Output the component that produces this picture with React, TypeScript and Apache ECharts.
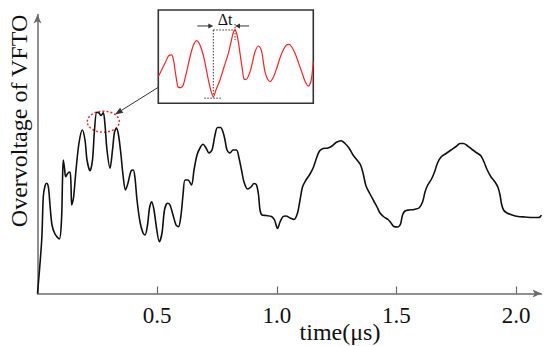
import React, { useEffect, useRef } from "react";
import * as echarts from "echarts";

// Main waveform: time (µs) vs overvoltage (arbitrary units)
const timeUs = [
  0, 0.0176, 0.0242, 0.0313, 0.0384, 0.046, 0.0522, 0.0606, 0.0731, 0.0911,
  0.1003, 0.1045, 0.1078, 0.1128, 0.1178, 0.1275, 0.1358, 0.14, 0.1429, 0.1504,
  0.1609, 0.1734, 0.1872, 0.1985, 0.2069, 0.2194, 0.2298, 0.2382, 0.2474, 0.257,
  0.2654, 0.275, 0.2821, 0.2904, 0.303, 0.3134, 0.3218, 0.3301, 0.3385, 0.3489,
  0.3573, 0.3677, 0.3782, 0.3907, 0.4003, 0.4074, 0.4158, 0.4283, 0.4409, 0.4492,
  0.4597, 0.468, 0.4772, 0.4868, 0.4973, 0.509, 0.5203, 0.5307, 0.5432, 0.5537,
  0.5662, 0.5788, 0.5892, 0.5997, 0.608, 0.6164, 0.6289, 0.6435, 0.654, 0.6665,
  0.679, 0.6916, 0.7041, 0.7166, 0.7292, 0.7417, 0.7522, 0.7647, 0.7752, 0.7835,
  0.7919, 0.8044, 0.8169, 0.8316, 0.842, 0.8525, 0.8629, 0.8776, 0.8922, 0.9047,
  0.9152, 0.9236, 0.9298, 0.9382, 0.9549, 0.9779, 0.9904, 1.003, 1.0134, 1.0259,
  1.0384, 1.0551, 1.0719, 1.0865, 1.097, 1.1074, 1.1221, 1.1388, 1.1534, 1.1659,
  1.1784, 1.1931, 1.214, 1.2307, 1.2474, 1.2683, 1.285, 1.3017, 1.3185, 1.3352,
  1.3498, 1.3602, 1.3728, 1.3895, 1.4062, 1.4187, 1.4313, 1.448, 1.4647, 1.4772,
  1.4898, 1.5044, 1.5169, 1.5253, 1.5357, 1.5524, 1.5733, 1.5942, 1.6089, 1.6193,
  1.6297, 1.6464, 1.659, 1.6715, 1.6862, 1.7071, 1.728, 1.7489, 1.7656, 1.7802,
  1.7948, 1.8157, 1.8366, 1.8533, 1.8658, 1.8784, 1.8951, 1.9118, 1.9243, 1.9327,
  1.939, 1.9474, 1.962, 1.9829, 2.0079, 2.0372, 2.0706, 2.0915, 2.1, 2.105,
];
const overvoltage = [
  0, 53.5, 96.8, 107.5, 110.2, 105.5, 88.5, 68.5, 59.5, 54.5,
  73.5, 113.5, 133.5, 125.5, 116.8, 120.5, 121.5, 108.5, 88.5, 95.5,
  123.5, 150.5, 163.5, 153.5, 133.5, 122.8, 133.5, 163.5, 181.2, 180.5,
  178, 180.8, 168.5, 143.5, 125.2, 143.5, 161.5, 165.2, 158.5, 138.5,
  118.5, 103.5, 110.5, 122.5, 123.5, 115.5, 93.5, 71.5, 60.5, 58.5,
  68.5, 85.5, 91.8, 83.5, 65.5, 51.8, 60.5, 83.5, 90.2, 88.5,
  78.5, 68.5, 66.8, 78.5, 98.5, 113.5, 113.5, 108.5, 123.5, 138.5,
  145.5, 149.2, 145.5, 140.5, 143.5, 158.5, 166, 166, 161.5, 153.5,
  143.5, 140.5, 143.5, 143.5, 135.5, 123.5, 111.5, 104.5, 106.5, 110,
  108.5, 98.5, 83.5, 78.5, 78, 77, 73.5, 65, 71.5, 77,
  77.5, 75.5, 74, 80.5, 93.5, 106.5, 113.5, 119.5, 126.5, 135.5,
  142.5, 145, 145.5, 147.5, 151, 152.8, 150, 145.5, 138.5, 133.5,
  128.5, 120.5, 107.5, 99.5, 92, 86.5, 80.5, 76.5, 74, 70.5,
  67, 66.5, 69.5, 78.5, 82.5, 83.5, 84, 85.5, 91.5, 101.5,
  108, 114.5, 121.5, 130.5, 136.5, 140, 143.5, 147, 150, 150,
  148, 144, 140.5, 137.5, 131.5, 124, 116.5, 111.5, 106, 98.5,
  89.5, 83.5, 80.5, 78.5, 77, 76.5, 76, 76, 76.5, 78.5,
];

// Inset (zoomed) waveform, normalised coordinates
const insetX = [
  0, 0.043, 0.066, 0.086, 0.098, 0.108, 0.121, 0.129, 0.146, 0.161,
  0.182, 0.205, 0.227, 0.248, 0.266, 0.29, 0.308, 0.323, 0.34, 0.355,
  0.372, 0.398, 0.424, 0.452, 0.472, 0.485, 0.495, 0.505, 0.518, 0.527,
  0.541, 0.553, 0.566, 0.592, 0.611, 0.624, 0.645, 0.659, 0.669, 0.688,
  0.705, 0.721, 0.743, 0.764, 0.785, 0.806, 0.827, 0.845, 0.863, 0.882,
  0.905, 0.925, 0.946, 0.968, 0.982, 0.99, 1.0,
];
const insetY = [
  28.5, 42.9, 50.7, 51.8, 46.4, 35.7, 21.8, 17.1, 16.9, 19.6,
  33.5, 49.9, 62.4, 67.1, 63.6, 51.8, 37.8, 25, 13.2, 7.1,
  14.3, 25, 38.9, 53.6, 67.8, 76.4, 78.6, 75.3, 64.6, 53.6,
  37.8, 26, 25.5, 33.9, 46.4, 55.3, 61.4, 59.3, 53.9, 33.9,
  26, 23.2, 28.2, 37.5, 48.6, 57.1, 62.5, 63.2, 59.8, 53.6,
  43.2, 33.9, 23.9, 18.5, 21.8, 28.5, 44.6,
];

const xTickValues = [0.5, 1.0, 1.5, 2.0];
const yAxisTitle = "Overvoltage of VFTO";
const xAxisTitle = "time(μs)";
const deltaLabel = "Δt";
const insetMinIndex = 19;
const insetPeakIndex = 26;
const zoomCenter = [0.275, 171.8];

const FONT = "Liberation Serif";

export default function App() {
  const ref = useRef<HTMLDivElement>(null);

  useEffect(() => {
    const chart = echarts.init(ref.current!, null, { renderer: "svg" });
    const axisColor = "#6b6b6b";
    chart.setOption({
      animation: false,
      textStyle: { fontFamily: FONT },
      grid: [
        { left: 37.5, right: 8.5, top: 14.5, bottom: 52.5 },
        { left: 158.3, top: 10, width: 155, height: 93.3 },
      ],
      xAxis: [
        {
          type: "value",
          gridIndex: 0,
          min: 0,
          max: 2.106,
          axisLine: {
            show: true,
            symbol: ["none", "arrow"],
            symbolSize: [6, 9],
            lineStyle: { color: axisColor, width: 1.5 },
          },
          axisTick: {
            show: true,
            inside: true,
            length: 7,
            customValues: xTickValues,
            lineStyle: { color: axisColor, width: 1.2 },
          },
          axisLabel: {
            customValues: xTickValues,
            formatter: (v: number) => v.toFixed(1),
            color: "#111",
            fontFamily: FONT,
            fontSize: 23,
            margin: 10,
          },
          splitLine: { show: false },
        },
        { type: "value", gridIndex: 1, min: 0, max: 1, show: false },
      ],
      yAxis: [
        {
          type: "value",
          gridIndex: 0,
          min: 0,
          max: 279,
          axisLine: {
            show: true,
            symbol: ["none", "arrow"],
            symbolSize: [6, 9],
            lineStyle: { color: axisColor, width: 1.5 },
          },
          axisTick: { show: false },
          axisLabel: { show: false },
          splitLine: { show: false },
        },
        { type: "value", gridIndex: 1, min: 0, max: 100, show: false },
      ],
      series: [
        {
          type: "line",
          xAxisIndex: 0,
          yAxisIndex: 0,
          data: timeUs.map((t, i) => [t, overvoltage[i]]),
          showSymbol: false,
          smooth: 0.3,
          lineStyle: { color: "#111", width: 1.6 },
          silent: true,
        },
        {
          type: "line",
          xAxisIndex: 1,
          yAxisIndex: 1,
          data: insetX.map((t, i) => [t, insetY[i]]),
          showSymbol: false,
          smooth: 0.3,
          clip: false,
          lineStyle: { color: "#ff2020", width: 1.2 },
          silent: true,
        },
      ],
    });

    const toPx = (g: number, pt: number[]) =>
      chart.convertToPixel({ gridIndex: g } as any, pt) as number[];

    const [ecx, ecy] = toPx(0, zoomCenter);
    const rx = 16;
    const ry = 10.5;
    const fromX = 158.3;
    const fromY = 87.3;
    const dx = ecx - fromX;
    const dy = ecy - fromY;
    const tEll = 1 / Math.sqrt((dx * dx) / (rx * rx) + (dy * dy) / (ry * ry));
    const tipX = ecx - dx * tEll;
    const tipY = ecy - dy * tEll;
    const len = Math.sqrt(dx * dx + dy * dy);
    const ux = dx / len;
    const uy = dy / len;
    const headL = 8;
    const headW = 3;
    const bx = tipX - ux * headL;
    const by = tipY - uy * headL;

    const [xm, ym] = toPx(1, [insetX[insetMinIndex], insetY[insetMinIndex]]);
    const [xp, yp] = toPx(1, [insetX[insetPeakIndex], insetY[insetPeakIndex]]);
    const dotted = { stroke: "#333", lineWidth: 1, lineDash: [1.5, 1.5] };
    const ay = yp - 4;

    const txt = (text: string, x: number, y: number, size: number, rotation = 0) => ({
      type: "text",
      x,
      y,
      rotation,
      style: {
        text,
        fontFamily: FONT,
        fontSize: size,
        fill: "#111",
        align: "center",
        verticalAlign: "middle",
      },
      silent: true,
    });

    chart.setOption({
      graphic: [
        {
          type: "rect",
          shape: { x: 158.3, y: 10, width: 155, height: 93.3 },
          style: { fill: "none", stroke: "#333", lineWidth: 1.6 },
          silent: true,
        },
        {
          type: "ellipse",
          shape: { cx: ecx, cy: ecy, rx, ry },
          style: { fill: "none", stroke: "#ff2020", lineWidth: 1.4, lineDash: [2, 2] },
          silent: true,
        },
        {
          type: "line",
          shape: { x1: fromX, y1: fromY, x2: bx, y2: by },
          style: { stroke: "#333", lineWidth: 1 },
          silent: true,
        },
        {
          type: "polygon",
          shape: {
            points: [
              [tipX, tipY],
              [bx - uy * headW, by + ux * headW],
              [bx + uy * headW, by - ux * headW],
            ],
          },
          style: { fill: "#333" },
          silent: true,
        },
        { type: "line", shape: { x1: xm, y1: yp, x2: xm, y2: ym + 1.5 }, style: dotted, silent: true },
        { type: "line", shape: { x1: xm - 9, y1: ym + 1.5, x2: xm + 9, y2: ym + 1.5 }, style: dotted, silent: true },
        { type: "line", shape: { x1: xm, y1: yp, x2: xp + 1, y2: yp }, style: dotted, silent: true },
        { type: "line", shape: { x1: xp, y1: yp - 6, x2: xp, y2: yp + 10 }, style: dotted, silent: true },
        { type: "line", shape: { x1: xm - 16, y1: ay, x2: xm - 4, y2: ay }, style: { stroke: "#333", lineWidth: 1 }, silent: true },
        {
          type: "polygon",
          shape: { points: [[xm, ay], [xm - 5, ay - 2.5], [xm - 5, ay + 2.5]] },
          style: { fill: "#333" },
          silent: true,
        },
        { type: "line", shape: { x1: xp + 14, y1: ay, x2: xp + 4, y2: ay }, style: { stroke: "#333", lineWidth: 1 }, silent: true },
        {
          type: "polygon",
          shape: { points: [[xp, ay], [xp + 5, ay - 2.5], [xp + 5, ay + 2.5]] },
          style: { fill: "#333" },
          silent: true,
        },
        txt(deltaLabel, (xm + xp) / 2 + 1, yp - 10, 16),
        txt(yAxisTitle, 19, 121, 24, Math.PI / 2),
        txt(xAxisTitle, 340, 332, 24),
      ],
    });

    return () => chart.dispose();
  }, []);

  return (
    <div
      ref={ref}
      style={{ position: "fixed", left: 0, top: 0, width: 550, height: 346, background: "#fff" }}
    />
  );
}
